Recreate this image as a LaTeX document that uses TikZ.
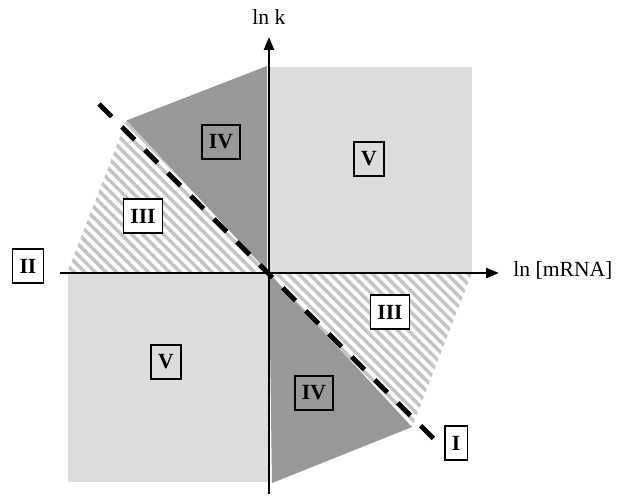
\documentclass[tikz,border=0pt]{standalone}
\usepackage{fontspec}
\setmainfont{Liberation Serif}
\usepackage{xcolor}
\usepackage{tikz}
\usetikzlibrary{arrows.meta,patterns.meta}
\definecolor{lightreg}{HTML}{DCDCDC}
\definecolor{darkreg}{HTML}{989898}
\definecolor{hatchreg}{HTML}{C4C4C4}

\begin{document}
\begin{tikzpicture}[
  every node/.style={font=\fontsize{12.3}{14}\selectfont},
  numbox/.style={draw, line width=0.8pt, inner xsep=0.14cm, inner ysep=0pt,
                 minimum height=0.68cm, font=\fontsize{12.3}{14}\selectfont\bfseries},
  axisline/.style={line width=1.4pt, -{Triangle[length=0.26cm,width=0.2cm]}},
  hatched/.style={pattern={Lines[angle=-45,distance=0.15cm,line width=0.07cm]},
                  pattern color=hatchreg},
]
\useasboundingbox (-5.38,-4.44) rectangle (7.12,5.46);

\coordinate (o) at (0,0);
\coordinate (ul) at (-2.85,3.05);
\coordinate (lr) at (2.86,-3.08);

% regions
\fill[lightreg] (o) rectangle (4.06,4.12);
\fill[lightreg] (-4.02,-4.18) rectangle (o);
\fill[darkreg] (ul) -- (-0.04,4.14) -- (-0.04,0) -- (o) -- cycle;
\fill[darkreg] (o) -- (0.06,-4.2) -- (lr) -- cycle;
\fill[hatched] (ul) -- (o) -- (-4.04,0) -- cycle;
\fill[hatched] (o) -- (4.06,0) -- (lr) -- cycle;

% axes
\coordinate (xstart) at (-4.18,0);
\coordinate (xtip) at (4.6,0);
\coordinate (ystart) at (0,-4.42);
\coordinate (ytip) at (0,4.72);
\draw[axisline] (xstart) -- (xtip);
\draw[axisline] (ystart) -- (ytip);
\node (xlab) [anchor=west, inner sep=0pt] at (4.88,0.05) {ln [mRNA]};
\node (ylab) at (0,5.12) {ln k};

% boundary line I
\coordinate (dashA) at (-3.4,3.38);
\coordinate (dashB) at (3.38,-3.4);
\draw[line width=2.8pt, dash pattern=on 0.36cm off 0.29cm] (dashA) -- (dashB);

\node[numbox] (lineI)  at (3.74,-3.40) {I};
\node[numbox] (lineII) at (-4.82,0.14) {II};
\node[numbox, fill=white] (hatchUL) at (-2.52,1.14) {III};
\node[numbox, fill=white] (hatchLR) at (2.42,-0.78) {III};
\node[numbox] (darkUL) at (-0.96,2.62) {IV};
\node[numbox] (darkLR) at (0.90,-2.40) {IV};
\node[numbox] (lightUR) at (2.0,2.28) {V};
\node[numbox] (lightLL) at (-2.06,-1.78) {V};
\end{tikzpicture}
\end{document}
